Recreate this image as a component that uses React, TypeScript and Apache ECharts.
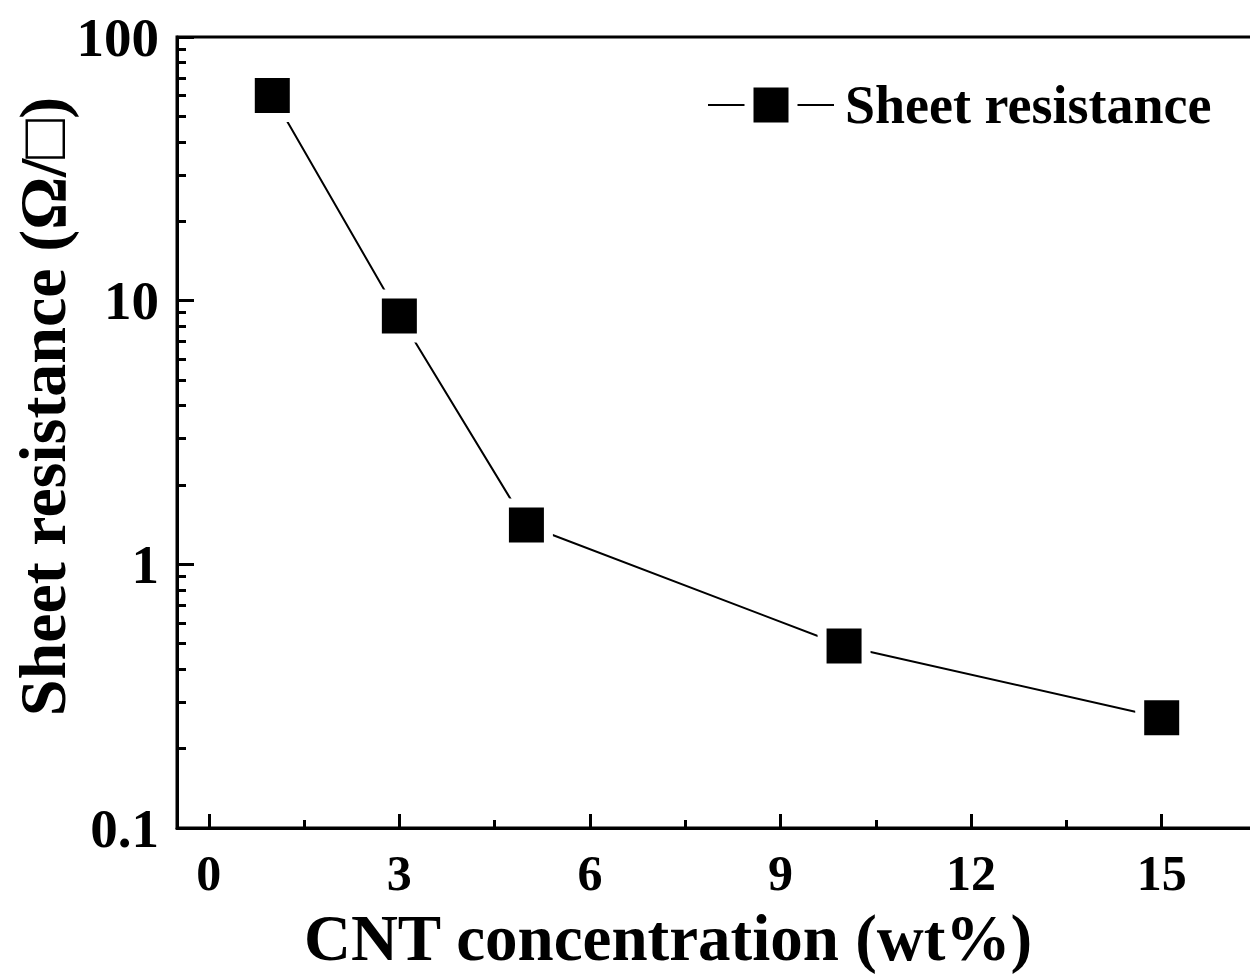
import React, { useEffect, useRef } from "react";
import * as echarts from "echarts";

const concentration = [1, 3, 5, 10, 15];
const sheetResistance = [60, 8.75, 1.41, 0.49, 0.262];
const xMajorTicks = [0, 3, 6, 9, 12, 15];
const xMinorTicks = [1.5, 4.5, 7.5, 10.5, 13.5];
const yMinorTickValues = [0.2, 0.3, 0.4, 0.5, 0.6, 0.7, 0.8, 0.9, 2, 3, 4, 5, 6, 7, 8, 9, 20, 30, 40, 50, 60, 70, 80, 90];

const FONT = "'Liberation Serif', 'Times New Roman', serif";

export default function App() {
  const ref = useRef<HTMLDivElement>(null);
  useEffect(() => {
    if (!ref.current) return;
    const chart = echarts.init(ref.current, null, { renderer: "svg" });
    const data = concentration.map((x, i) => [x, sheetResistance[i]]);
    chart.setOption({
      animation: false,
      backgroundColor: "#fff",
      textStyle: { fontFamily: FONT },
      grid: {
        left: 177,
        top: 37,
        width: 1080,
        height: 791,
        show: true,
        borderColor: "#000",
        borderWidth: 3,
        containLabel: false,
        outerBoundsMode: "none",
      },
      legend: {
        left: 707,
        top: 78,
        padding: 0,
        itemWidth: 126,
        itemHeight: 55,
        itemGap: 10,
        itemStyle: { color: "#000", borderColor: "#fff", borderWidth: 9 },
        lineStyle: { color: "#000", width: 2 },
        textStyle: {
          fontFamily: FONT,
          fontWeight: "bold",
          fontSize: 54,
          color: "#000",
          padding: [0, 0, 0, 6],
        },
        data: ["Sheet resistance"],
      },
      xAxis: [
        {
          type: "value",
          min: -0.5,
          max: 16.5,
          position: "bottom",
          name: "CNT concentration (wt%)",
          nameLocation: "middle",
          nameGap: 77,
          nameMoveOverlap: false,
          nameTextStyle: {
            fontFamily: FONT,
            fontWeight: "bold",
            fontSize: 65,
            color: "#000",
            padding: [0, 98, 0, 0],
          },
          axisLine: { show: true, onZero: false, lineStyle: { color: "#000", width: 3 } },
          axisTick: {
            show: true,
            inside: true,
            length: 14,
            lineStyle: { color: "#000", width: 3 },
            customValues: xMajorTicks,
          },
          axisLabel: {
            show: true,
            customValues: xMajorTicks,
            margin: 20,
            fontFamily: FONT,
            fontWeight: "bold",
            fontSize: 50,
            color: "#000",
          },
          splitLine: { show: false },
        },
        {
          type: "value",
          min: -0.5,
          max: 16.5,
          position: "bottom",
          axisLine: { show: false, onZero: false },
          axisTick: {
            show: true,
            inside: true,
            length: 8,
            lineStyle: { color: "#000", width: 3 },
            customValues: xMinorTicks,
          },
          axisLabel: { show: false },
          splitLine: { show: false },
        },
      ],
      yAxis: [
        {
          type: "log",
          logBase: 10,
          min: 0.1,
          max: 100,
          position: "left",
          name: "Sheet resistance (Ω/□)",
          nameLocation: "middle",
          nameGap: 102,
          nameMoveOverlap: false,
          nameTextStyle: {
            fontFamily: FONT,
            fontWeight: "bold",
            fontSize: 66,
            color: "#000",
            padding: [0, 0, 0, 52],
          },
          axisLine: { show: true, onZero: false, lineStyle: { color: "#000", width: 3 } },
          axisTick: {
            show: true,
            inside: true,
            length: 17,
            lineStyle: { color: "#000", width: 3 },
          },
          axisLabel: {
            margin: 18,
            fontFamily: FONT,
            fontWeight: "bold",
            fontSize: 55,
            color: "#000",
            formatter: (v: number) => String(v),
          },
          splitLine: { show: false },
        },
        {
          type: "value",
          min: -1,
          max: 2,
          position: "left",
          axisLine: { show: false, onZero: false },
          axisTick: {
            show: true,
            inside: true,
            length: 9,
            lineStyle: { color: "#000", width: 3 },
            customValues: yMinorTickValues.map((v) => Math.log10(v)),
          },
          axisLabel: { show: false },
          splitLine: { show: false },
        },
      ],
      series: [
        {
          name: "Sheet resistance",
          type: "line",
          xAxisIndex: 0,
          yAxisIndex: 0,
          data,
          symbol: "rect",
          symbolSize: 44,
          itemStyle: { color: "#000", borderColor: "#fff", borderWidth: 9 },
          lineStyle: { color: "#000", width: 2 },
          z: 3,
        },
      ],
    });
    return () => chart.dispose();
  }, []);
  return (
    <div
      style={{
        position: "fixed",
        left: 0,
        top: 0,
        width: 1250,
        height: 978,
        overflow: "hidden",
        background: "#fff",
      }}
    >
      <div ref={ref} style={{ width: 1290, height: 978 }} />
    </div>
  );
}
